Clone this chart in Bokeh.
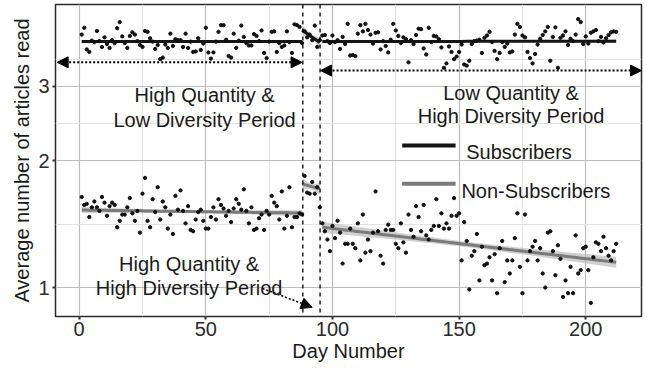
import numpy as np
from bokeh.plotting import figure
from bokeh.models import Range1d, FixedTicker, Span, Arrow, NormalHead, Label, BasicTickFormatter
from bokeh.embed import file_html
from bokeh.resources import INLINE

# ---------------- data ----------------
days = list(range(1, 213))

subscribers = [
    3.98, 4.13, 3.67, 3.62, 3.85, 3.82, 4.06, 3.84, 3.72, 3.92,
    3.78, 3.70, 3.86, 3.80, 4.12, 4.26, 3.94, 3.80, 3.70, 3.95,
    4.03, 3.98, 3.84, 3.76, 3.72, 4.06, 4.04, 3.90, 3.83, 3.68,
    3.76, 3.48, 3.51, 3.77, 3.70, 4.00, 3.74, 3.88, 3.86, 3.86,
    3.72, 4.00, 3.70, 3.83, 3.62, 3.63, 3.90, 3.66, 3.79, 4.13,
    3.61, 3.49, 3.61, 3.83, 4.04, 4.19, 4.19, 3.87, 3.54, 3.51,
    4.00, 3.70, 3.85, 4.18, 3.93, 3.80, 3.75, 3.75, 3.99, 3.95,
    3.84, 4.07, 3.60, 3.50, 3.83, 4.04, 4.05, 3.62, 3.80, 3.72,
    3.75, 4.05, 3.82, 3.60, 4.21, 4.19, 4.15, 3.80,
    4.05, 3.92, 3.98, 3.86, 4.18, 3.72,
    3.86, 3.96, 3.97, 3.84, 3.80, 3.96, 3.82, 3.86, 3.68, 3.93,
    3.78, 4.22, 3.55, 3.56, 3.54, 4.00, 4.19, 4.05, 4.22, 4.08,
    3.98, 3.79, 4.02, 4.03, 3.67, 3.84, 3.74, 3.61, 3.87, 4.22,
    4.07, 3.95, 3.80, 3.92, 3.88, 3.42, 3.86, 3.78, 3.97, 4.11,
    4.10, 3.69, 3.57, 4.13, 3.82, 3.95, 3.94, 3.88, 3.71, 3.32,
    3.40, 3.73, 3.62, 3.48, 3.53, 3.62, 3.77, 3.38, 3.36, 3.45,
    3.78, 3.84, 3.85, 3.87, 3.60, 3.91, 3.96, 4.04, 3.82, 3.64,
    3.48, 3.60, 3.82, 3.72, 3.79, 3.61, 3.63, 3.98, 4.22, 4.15,
    3.96, 3.92, 3.62, 3.50, 3.40, 3.58, 3.77, 3.89, 3.97, 4.05,
    4.15, 3.45, 3.93, 4.14, 3.32, 3.91, 3.96, 4.05, 3.76, 3.89,
    3.84, 3.98, 4.33, 4.26, 3.78, 3.94, 3.79, 4.02, 4.05, 4.08,
    3.84, 3.93, 3.81, 3.90, 3.97, 4.03, 4.05, 4.04,
]

non_subscribers = [
    1.64, 1.57, 1.58, 1.47, 1.55, 1.60, 1.55, 1.52, 1.64, 1.59,
    1.48, 1.56, 1.59, 1.57, 1.39, 1.44, 1.49, 1.49, 1.55, 1.63,
    1.50, 1.44, 1.52, 1.35, 1.67, 1.82, 1.44, 1.39, 1.62, 1.51,
    1.73, 1.45, 1.60, 1.55, 1.38, 1.49, 1.34, 1.65, 1.53, 1.70,
    1.52, 1.42, 1.56, 1.37, 1.36, 1.45, 1.51, 1.53, 1.44, 1.38,
    1.38, 1.47, 1.55, 1.45, 1.62, 1.57, 1.54, 1.48, 1.52, 1.43,
    1.54, 1.62, 1.58, 1.53, 1.71, 1.52, 1.42, 1.55, 1.37, 1.38,
    1.46, 1.49, 1.37, 1.52, 1.49, 1.65, 1.59, 1.56, 1.45, 1.69,
    1.38, 1.48, 1.73, 1.39, 1.47, 1.47, 1.50, 1.49,
    1.84, 1.68, 1.67, 1.78, 1.67, 1.73,
    1.55, 1.42, 1.36, 1.30, 1.22, 1.40, 1.31, 1.44, 1.35, 1.14,
    1.27, 1.27, 1.38, 1.27, 1.24, 1.42, 1.16, 1.49, 1.21, 1.30,
    1.22, 1.35, 1.69, 1.36, 1.19, 1.14, 1.37, 1.41, 1.37, 1.37,
    1.27, 1.24, 1.42, 1.28, 1.21, 1.49, 1.37, 1.32, 1.56, 1.47,
    1.36, 1.57, 1.33, 1.30, 1.37, 1.40, 1.62, 1.40, 1.50, 1.38,
    1.42, 1.38, 1.48, 1.63, 1.48, 1.50, 1.16, 1.43, 1.29, 0.99,
    1.19, 1.22, 1.34, 1.04, 1.25, 1.13, 1.14, 1.18, 1.04, 1.20,
    0.97, 1.24, 1.29, 1.03, 1.16, 1.08, 1.16, 1.31, 1.50, 1.12,
    0.97, 1.49, 1.16, 1.22, 1.25, 1.29, 1.16, 1.24, 1.08, 1.00,
    1.35, 1.36, 1.22, 1.07, 1.26, 1.17, 0.95, 1.04, 0.97, 1.12,
    0.97, 1.33, 1.08, 1.10, 1.24, 1.25, 1.10, 0.92, 1.18, 1.28,
    1.27, 1.22, 1.32, 1.24, 1.19, 1.16, 1.22, 1.27,
]

# fitted trend segments
fit_start_day = [1, 88, 96]
fit_end_day = [88, 95, 212]
sub_fit_start = [3.83, 4.08, 3.83]
sub_fit_end = [3.83, 3.81, 3.84]
sub_fit_halfwidth = [0.004, 0.012, 0.004]   # log10 units at segment ends
non_fit_start = [1.527, 1.762, 1.39]
non_fit_end = [1.502, 1.714, 1.148]
non_fit_halfwidth = [0.007, 0.014, 0.013]

period_breaks = [88.3, 95.1]

x_ticks = [0, 50, 100, 150, 200]
x_minor = [25, 75, 125, 175]
y_ticks = [1, 2, 3]
y_minor = [1.4142, 2.4495, 3.4641]

FONT = "Liberation Sans"

p = figure(
    frame_width=586, frame_height=312,
    x_range=Range1d(-9.35, 222.0), y_range=Range1d(0.854, 4.69),
    y_axis_type="log", output_backend="svg", toolbar_location=None,
    min_border_left=55, min_border_right=6, min_border_top=4, min_border_bottom=54,
    background_fill_color="white", border_fill_color="white",
)

# grids
p.xaxis.ticker = FixedTicker(ticks=x_ticks, minor_ticks=x_minor)
p.xgrid.ticker = FixedTicker(ticks=x_ticks, minor_ticks=x_minor)
p.yaxis.ticker = FixedTicker(ticks=y_ticks, minor_ticks=y_minor)
p.ygrid.ticker = FixedTicker(ticks=y_ticks, minor_ticks=y_minor)
p.yaxis.formatter = BasicTickFormatter()
for g in (p.xgrid, p.ygrid):
    g.grid_line_color = "#bcbcbc"
    g.grid_line_width = 1.2
    g.minor_grid_line_color = "#e3e3e3"
    g.minor_grid_line_width = 1.0

p.outline_line_color = "#2b2b2b"
p.outline_line_width = 1.5

for ax in (p.xaxis, p.yaxis):
    ax.axis_line_color = None
    ax.major_tick_line_color = "#333333"
    ax.major_tick_line_width = 2
    ax.major_tick_out = 3
    ax.major_tick_in = 0
    ax.minor_tick_line_color = None
    ax.major_label_text_font = FONT
    ax.major_label_text_font_size = "20px"
    ax.major_label_text_color = "#2a2a2a"
    ax.axis_label_text_font = FONT
    ax.axis_label_text_font_size = "20px"
    ax.axis_label_text_font_style = "normal"
    ax.axis_label_text_color = "#1a1a1a"

p.xaxis.axis_label = "Day Number"
p.yaxis.axis_label = "Average number of articles read"
p.xaxis.major_label_standoff = 1
p.xaxis.axis_label_standoff = 1
p.yaxis.major_label_standoff = 2
p.yaxis.axis_label_standoff = 2

# period separators
for b in period_breaks:
    p.add_layout(Span(location=b, dimension="height", line_color="black",
                      line_dash="4 4", line_width=1.3))


def band(s, e, v0, v1, h):
    xs = np.linspace(s, e, 60)
    t = (xs - (s + e) / 2.0) / (e - s)
    c = np.log10(v0) + (np.log10(v1) - np.log10(v0)) * (xs - s) / (e - s)
    hw = h * np.sqrt(1 + 12 * t ** 2) / 2.0
    return xs, 10 ** c, 10 ** (c - hw), 10 ** (c + hw)


for i in range(len(fit_start_day)):
    xs, c, lo, hi = band(fit_start_day[i], fit_end_day[i], non_fit_start[i], non_fit_end[i], non_fit_halfwidth[i])
    p.varea(x=xs, y1=lo, y2=hi, fill_color="#b0b0b0", fill_alpha=0.6)
    p.line(xs, c, line_color="#7a7a7a", line_width=3)
    xs, c, lo, hi = band(fit_start_day[i], fit_end_day[i], sub_fit_start[i], sub_fit_end[i], sub_fit_halfwidth[i])
    p.varea(x=xs, y1=lo, y2=hi, fill_color="#b0b0b0", fill_alpha=0.6)
    p.line(xs, c, line_color="#151515", line_width=3)

p.scatter(days, subscribers, size=3.3, color="#111111")
p.scatter(days, non_subscribers, size=3.3, color="#111111")

# period arrows
def head():
    return NormalHead(size=11, fill_color="black", line_color="black")

p.add_layout(Arrow(start=head(), end=head(), x_start=-8.7, y_start=3.42, x_end=88.0, y_end=3.42,
                   line_dash="2 2", line_width=2, line_color="black"))
p.add_layout(Arrow(start=head(), end=head(), x_start=95.3, y_start=3.27, x_end=222.0, y_end=3.27,
                   line_dash="2 2", line_width=2, line_color="black"))
p.add_layout(Arrow(end=head(), x_start=72.4, y_start=0.995, x_end=92.0, y_end=0.898,
                   line_dash="2 2", line_width=1.6, line_color="black"))

def label(x, y, text, align="center"):
    p.add_layout(Label(x=x, y=y, text=text, text_font=FONT, text_font_size="20px",
                       text_align=align, text_baseline="alphabetic", text_color="#1a1a1a"))

label(49.5, 2.862, "High Quantity &")
label(49.5, 2.502, "Low Diversity Period")
label(170.5, 2.888, "Low Quantity &")
label(170.5, 2.557, "High Diversity Period")
label(43.4, 1.138, "High Quantity &")
label(43.4, 0.998, "High Diversity Period")

# legend drawn as in the reference
p.segment(x0=[127.5], y0=[2.171], x1=[148.6], y1=[2.171], line_color="#151515", line_width=4)
p.segment(x0=[127.5], y0=[1.762], x1=[148.6], y1=[1.762], line_color="#7a7a7a", line_width=4)
label(152.8, 2.093, "Subscribers", align="left")
label(150.9, 1.692, "Non-Subscribers", align="left")

open("out.html", "w").write(file_html(p, INLINE))
